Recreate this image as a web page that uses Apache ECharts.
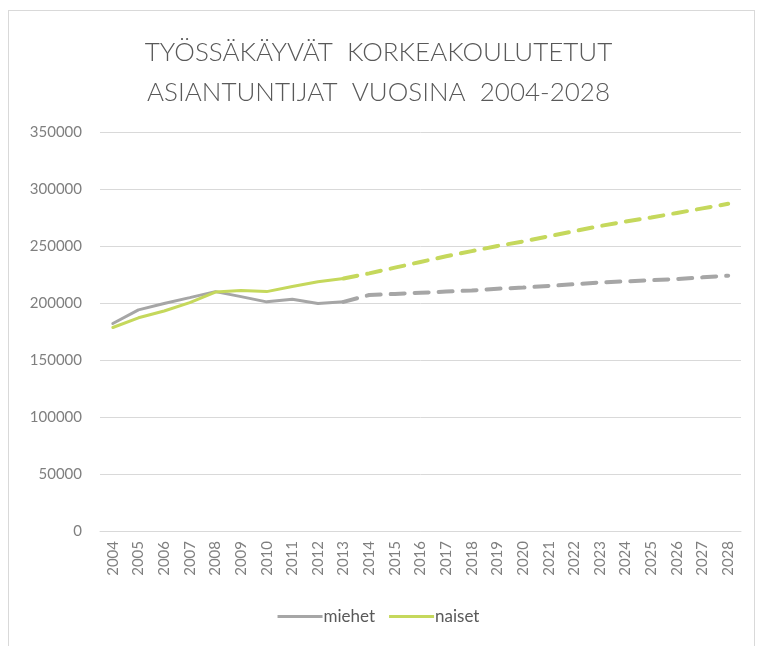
<!DOCTYPE html>
<html>
<head>
<meta charset="utf-8">
<script src="https://cdn.jsdelivr.net/npm/echarts@6/dist/echarts.min.js"></script>
<style>
  html, body { margin: 0; padding: 0; background: #fff; }
  #frame { position: absolute; left: 8px; top: 10px; width: 747px; height: 660px; border: 1px solid #d9d9d9; box-sizing: border-box; }
  #main { position: absolute; left: 0; top: 0; width: 757px; height: 646px; }
</style>
</head>
<body>
<div id="frame"></div>
<div id="main"></div>
<script>
// vuodet (x-akseli)
const years = ['2004','2005','2006','2007','2008','2009','2010','2011','2012','2013','2014','2015','2016',
  '2017','2018','2019','2020','2021','2022','2023','2024','2025','2026','2027','2028'];

// toteutunut 2004-2013
const miehet = [182000, 194000, 199500, 204700, 210000, 205600, 201000, 203200, 199500, 201000];
const naiset = [178500, 187000, 193000, 200300, 209600, 211000, 210000, 214500, 218700, 221500];

// ennuste 2013-2028 (alkaa vuodesta 2013)
const miehetEnnuste = [201000, 207000, 208000, 209000, 210000, 211000, 212500, 213500, 215000, 216500,
  218000, 219000, 220000, 221000, 222500, 224000];
const naisetEnnuste = [221500, 226000, 231000, 236000, 241000, 245500, 250000, 254000, 258500, 263000,
  267500, 271500, 275000, 279000, 283000, 287000];

const grey = '#a6a6a6';
const green = '#c5d85c';

const pad = (arr, before) => {
  const out = [];
  for (let i = 0; i < years.length; i++) {
    const j = i - before;
    out.push(j >= 0 && j < arr.length ? arr[j] : null);
  }
  return out;
};

const chart = echarts.init(document.getElementById('main'));

const line = (name, data, color, dashed) => ({
  type: 'line',
  name: name,
  data: data,
  symbol: 'none',
  smooth: false,
  connectNulls: false,
  lineStyle: { color: color, width: dashed ? 4 : 3, type: dashed ? [14, 10] : 'solid', cap: 'round' },
  itemStyle: { color: color },
  emphasis: { disabled: true }
});

chart.setOption({
  animation: false,
  title: {
    text: 'TYÖSSÄKÄYVÄT  KORKEAKOULUTETUT\nASIANTUNTIJAT  VUOSINA  2004-2028',
    left: 'center',
    top: 28,
    textStyle: {
      fontFamily: 'Lato',
      fontWeight: 300,
      fontSize: 26,
      lineHeight: 40,
      color: '#595959'
    }
  },
  legend: {
    data: ['miehet', 'naiset'],
    bottom: 16,
    left: 'center',
    itemWidth: 45,
    itemHeight: 3,
    itemGap: 14,
    icon: 'rect',
    textStyle: { fontFamily: 'Lato', fontSize: 17, color: '#595959', padding: [0, 0, 0, -4] }
  },
  grid: { left: 100, right: 16, top: 132, bottom: 115, containLabel: false },
  xAxis: {
    type: 'category',
    data: years,
    boundaryGap: true,
    axisLine: { lineStyle: { color: '#d9d9d9', width: 1 } },
    axisTick: { show: false },
    axisLabel: { rotate: 90, fontFamily: 'Lato', fontSize: 15, color: '#7f7f7f', interval: 0, margin: 10 }
  },
  yAxis: {
    type: 'value',
    min: 0,
    max: 350000,
    interval: 50000,
    axisLine: { show: false },
    axisTick: { show: false },
    splitLine: { lineStyle: { color: '#d9d9d9', width: 1 } },
    axisLabel: { fontFamily: 'Lato', fontSize: 15, color: '#7f7f7f', margin: 18, formatter: v => String(v) }
  },
  series: [
    line('miehet', pad(miehet, 0), grey, false),
    line('naiset', pad(naiset, 0), green, false),
    line('miehet', pad(miehetEnnuste, 9), grey, true),
    line('naiset', pad(naisetEnnuste, 9), green, true)
  ]
});
</script>
</body>
</html>
